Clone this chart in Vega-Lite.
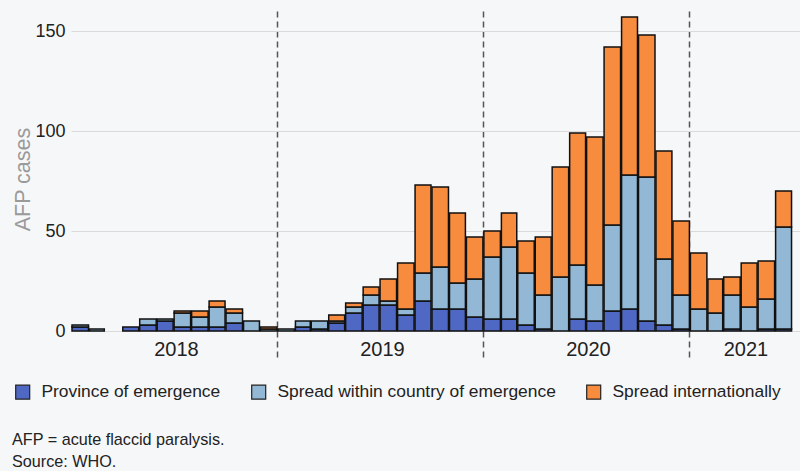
{
  "$schema": "https://vega.github.io/schema/vega-lite/v6.json",
  "width": 729,
  "height": 320,
  "autosize": {"type": "none"},
  "padding": {"left": 71, "top": 11, "right": 0, "bottom": 140},
  "background": "#F6F7F9",
  "config": {"view": {"stroke": null}, "font": "Liberation Sans"},
  "title": {
    "text": "AFP = acute flaccid paralysis.",
    "subtitle": "Source: WHO.",
    "orient": "bottom",
    "anchor": "start",
    "frame": "group",
    "dx": -59,
    "offset": 30,
    "fontSize": 16.2,
    "fontWeight": "normal",
    "color": "#222",
    "subtitleFontSize": 16.2,
    "subtitleColor": "#222",
    "subtitlePadding": 6
  },
  "datasets": {
    "layers": [
      {"cat": "Province of emergence", "layer": 1},
      {"cat": "Spread within country of emergence", "layer": 2},
      {"cat": "Spread internationally", "layer": 3}
    ]
  },
  "data": {
    "values": [
      {"month": "2018-01-01", "cat": "Province of emergence", "n": 2},
      {"month": "2018-01-01", "cat": "Spread within country of emergence", "n": 1},
      {"month": "2018-02-01", "cat": "Spread within country of emergence", "n": 1},
      {"month": "2018-04-01", "cat": "Province of emergence", "n": 2},
      {"month": "2018-05-01", "cat": "Province of emergence", "n": 3},
      {"month": "2018-05-01", "cat": "Spread within country of emergence", "n": 3},
      {"month": "2018-06-01", "cat": "Province of emergence", "n": 5},
      {"month": "2018-06-01", "cat": "Spread within country of emergence", "n": 1},
      {"month": "2018-07-01", "cat": "Province of emergence", "n": 2},
      {"month": "2018-07-01", "cat": "Spread within country of emergence", "n": 7},
      {"month": "2018-07-01", "cat": "Spread internationally", "n": 1},
      {"month": "2018-08-01", "cat": "Province of emergence", "n": 2},
      {"month": "2018-08-01", "cat": "Spread within country of emergence", "n": 5},
      {"month": "2018-08-01", "cat": "Spread internationally", "n": 3},
      {"month": "2018-09-01", "cat": "Province of emergence", "n": 2},
      {"month": "2018-09-01", "cat": "Spread within country of emergence", "n": 10},
      {"month": "2018-09-01", "cat": "Spread internationally", "n": 3},
      {"month": "2018-10-01", "cat": "Province of emergence", "n": 4},
      {"month": "2018-10-01", "cat": "Spread within country of emergence", "n": 5},
      {"month": "2018-10-01", "cat": "Spread internationally", "n": 2},
      {"month": "2018-11-01", "cat": "Spread within country of emergence", "n": 5},
      {"month": "2018-12-01", "cat": "Spread within country of emergence", "n": 1},
      {"month": "2018-12-01", "cat": "Spread internationally", "n": 1},
      {"month": "2019-01-01", "cat": "Spread within country of emergence", "n": 1},
      {"month": "2019-02-01", "cat": "Province of emergence", "n": 2},
      {"month": "2019-02-01", "cat": "Spread within country of emergence", "n": 3},
      {"month": "2019-03-01", "cat": "Province of emergence", "n": 1},
      {"month": "2019-03-01", "cat": "Spread within country of emergence", "n": 4},
      {"month": "2019-04-01", "cat": "Province of emergence", "n": 4},
      {"month": "2019-04-01", "cat": "Spread within country of emergence", "n": 1},
      {"month": "2019-04-01", "cat": "Spread internationally", "n": 3},
      {"month": "2019-05-01", "cat": "Province of emergence", "n": 9},
      {"month": "2019-05-01", "cat": "Spread within country of emergence", "n": 3},
      {"month": "2019-05-01", "cat": "Spread internationally", "n": 2},
      {"month": "2019-06-01", "cat": "Province of emergence", "n": 13},
      {"month": "2019-06-01", "cat": "Spread within country of emergence", "n": 5},
      {"month": "2019-06-01", "cat": "Spread internationally", "n": 4},
      {"month": "2019-07-01", "cat": "Province of emergence", "n": 13},
      {"month": "2019-07-01", "cat": "Spread within country of emergence", "n": 2},
      {"month": "2019-07-01", "cat": "Spread internationally", "n": 11},
      {"month": "2019-08-01", "cat": "Province of emergence", "n": 8},
      {"month": "2019-08-01", "cat": "Spread within country of emergence", "n": 3},
      {"month": "2019-08-01", "cat": "Spread internationally", "n": 23},
      {"month": "2019-09-01", "cat": "Province of emergence", "n": 15},
      {"month": "2019-09-01", "cat": "Spread within country of emergence", "n": 14},
      {"month": "2019-09-01", "cat": "Spread internationally", "n": 44},
      {"month": "2019-10-01", "cat": "Province of emergence", "n": 11},
      {"month": "2019-10-01", "cat": "Spread within country of emergence", "n": 21},
      {"month": "2019-10-01", "cat": "Spread internationally", "n": 40},
      {"month": "2019-11-01", "cat": "Province of emergence", "n": 11},
      {"month": "2019-11-01", "cat": "Spread within country of emergence", "n": 13},
      {"month": "2019-11-01", "cat": "Spread internationally", "n": 35},
      {"month": "2019-12-01", "cat": "Province of emergence", "n": 7},
      {"month": "2019-12-01", "cat": "Spread within country of emergence", "n": 19},
      {"month": "2019-12-01", "cat": "Spread internationally", "n": 21},
      {"month": "2020-01-01", "cat": "Province of emergence", "n": 6},
      {"month": "2020-01-01", "cat": "Spread within country of emergence", "n": 31},
      {"month": "2020-01-01", "cat": "Spread internationally", "n": 13},
      {"month": "2020-02-01", "cat": "Province of emergence", "n": 6},
      {"month": "2020-02-01", "cat": "Spread within country of emergence", "n": 36},
      {"month": "2020-02-01", "cat": "Spread internationally", "n": 17},
      {"month": "2020-03-01", "cat": "Province of emergence", "n": 3},
      {"month": "2020-03-01", "cat": "Spread within country of emergence", "n": 26},
      {"month": "2020-03-01", "cat": "Spread internationally", "n": 16},
      {"month": "2020-04-01", "cat": "Province of emergence", "n": 1},
      {"month": "2020-04-01", "cat": "Spread within country of emergence", "n": 17},
      {"month": "2020-04-01", "cat": "Spread internationally", "n": 29},
      {"month": "2020-05-01", "cat": "Spread within country of emergence", "n": 27},
      {"month": "2020-05-01", "cat": "Spread internationally", "n": 55},
      {"month": "2020-06-01", "cat": "Province of emergence", "n": 6},
      {"month": "2020-06-01", "cat": "Spread within country of emergence", "n": 27},
      {"month": "2020-06-01", "cat": "Spread internationally", "n": 66},
      {"month": "2020-07-01", "cat": "Province of emergence", "n": 5},
      {"month": "2020-07-01", "cat": "Spread within country of emergence", "n": 18},
      {"month": "2020-07-01", "cat": "Spread internationally", "n": 74},
      {"month": "2020-08-01", "cat": "Province of emergence", "n": 10},
      {"month": "2020-08-01", "cat": "Spread within country of emergence", "n": 43},
      {"month": "2020-08-01", "cat": "Spread internationally", "n": 89},
      {"month": "2020-09-01", "cat": "Province of emergence", "n": 11},
      {"month": "2020-09-01", "cat": "Spread within country of emergence", "n": 67},
      {"month": "2020-09-01", "cat": "Spread internationally", "n": 79},
      {"month": "2020-10-01", "cat": "Province of emergence", "n": 5},
      {"month": "2020-10-01", "cat": "Spread within country of emergence", "n": 72},
      {"month": "2020-10-01", "cat": "Spread internationally", "n": 71},
      {"month": "2020-11-01", "cat": "Province of emergence", "n": 3},
      {"month": "2020-11-01", "cat": "Spread within country of emergence", "n": 33},
      {"month": "2020-11-01", "cat": "Spread internationally", "n": 54},
      {"month": "2020-12-01", "cat": "Province of emergence", "n": 1},
      {"month": "2020-12-01", "cat": "Spread within country of emergence", "n": 17},
      {"month": "2020-12-01", "cat": "Spread internationally", "n": 37},
      {"month": "2021-01-01", "cat": "Spread within country of emergence", "n": 11},
      {"month": "2021-01-01", "cat": "Spread internationally", "n": 28},
      {"month": "2021-02-01", "cat": "Spread within country of emergence", "n": 9},
      {"month": "2021-02-01", "cat": "Spread internationally", "n": 17},
      {"month": "2021-03-01", "cat": "Province of emergence", "n": 1},
      {"month": "2021-03-01", "cat": "Spread within country of emergence", "n": 17},
      {"month": "2021-03-01", "cat": "Spread internationally", "n": 9},
      {"month": "2021-04-01", "cat": "Spread within country of emergence", "n": 12},
      {"month": "2021-04-01", "cat": "Spread internationally", "n": 22},
      {"month": "2021-05-01", "cat": "Province of emergence", "n": 1},
      {"month": "2021-05-01", "cat": "Spread within country of emergence", "n": 15},
      {"month": "2021-05-01", "cat": "Spread internationally", "n": 19},
      {"month": "2021-06-01", "cat": "Province of emergence", "n": 1},
      {"month": "2021-06-01", "cat": "Spread within country of emergence", "n": 51},
      {"month": "2021-06-01", "cat": "Spread internationally", "n": 18}
    ]
  },
  "transform": [
    {"lookup": "cat", "from": {"data": {"name": "layers"}, "key": "cat", "fields": ["layer"]}}
  ],
  "mark": {"type": "bar", "stroke": "#111", "strokeWidth": 1.5},
  "encoding": {
    "x": {
      "field": "month",
      "type": "temporal",
      "timeUnit": "utcyearmonth",
      "scale": {
        "type": "utc",
        "domain": [
          {"year": 2018, "month": 1, "date": 1, "utc": true},
          {"year": 2021, "month": 7, "date": 16, "utc": true}
        ]
      },
      "axis": {
        "title": null,
        "values": [
          {"year": 2018, "month": 1, "date": 1, "utc": true},
          {"year": 2019, "month": 1, "date": 1, "utc": true},
          {"year": 2020, "month": 1, "date": 1, "utc": true},
          {"year": 2021, "month": 1, "date": 1, "utc": true}
        ],
        "labelExpr": "utcFormat(datum.value, '%Y')",
        "domain": false,
        "grid": true,
        "gridDash": [6, 4],
        "gridColor": "#555",
        "gridWidth": 1.5,
        "gridOpacity": {"condition": {"test": "utcyear(datum.value) == 2018", "value": 0}, "value": 1},
        "ticks": true,
        "tickDash": [6, 4],
        "tickColor": "#555",
        "tickWidth": 1.5,
        "tickSize": 27,
        "tickOpacity": {"condition": {"test": "utcyear(datum.value) == 2018", "value": 0}, "value": 1},
        "labelFontSize": 20,
        "labelColor": "#222",
        "labelPadding": -19,
        "labelFlush": false,
        "labelAlign": "center",
        "labelOffset": {"condition": {"test": "utcyear(datum.value) == 2021", "value": 56}, "value": 105}
      }
    },
    "y": {
      "field": "n",
      "type": "quantitative",
      "stack": "zero",
      "scale": {"domain": [0, 160], "nice": false},
      "axis": {
        "values": [0, 50, 100, 150],
        "domain": false,
        "ticks": false,
        "tickSize": 0,
        "gridColor": "#dadada",
        "gridWidth": 1,
        "labelFontSize": 18,
        "labelColor": "#222",
        "labelPadding": 6,
        "title": "AFP cases",
        "titleFontSize": 21.5,
        "titleFontWeight": "normal",
        "titleColor": "#9a9a9a",
        "titleX": -37,
        "titleY": 168
      }
    },
    "order": {"field": "layer", "type": "quantitative", "sort": "ascending"},
    "color": {
      "field": "cat",
      "type": "nominal",
      "sort": ["Province of emergence", "Spread within country of emergence", "Spread internationally"],
      "scale": {
        "domain": ["Province of emergence", "Spread within country of emergence", "Spread internationally"],
        "range": ["#4F68C4", "#92B8D6", "#F78B3E"]
      },
      "legend": {
        "orient": "none",
        "direction": "horizontal",
        "legendX": -57,
        "legendY": 372,
        "title": null,
        "padding": 0,
        "symbolType": "square",
        "symbolSize": 196,
        "symbolStrokeColor": "#222",
        "symbolStrokeWidth": 1.2,
        "symbolOpacity": 1,
        "labelFontSize": 17.4,
        "labelColor": "#222",
        "labelOffset": 10,
        "labelLimit": 400,
        "columnPadding": 28
      }
    }
  }
}
